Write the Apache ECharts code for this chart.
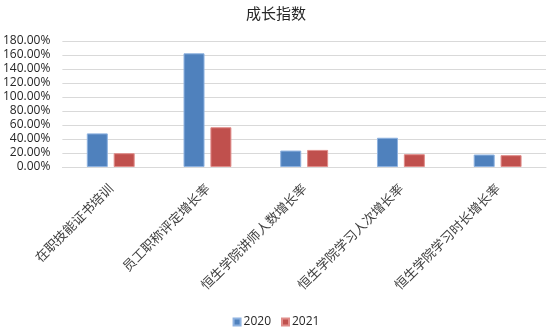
<!DOCTYPE html>
<html>
<head>
<meta charset="utf-8">
<script src="https://cdn.jsdelivr.net/npm/echarts@6/dist/echarts.min.js"></script>
<style>
html,body{margin:0;padding:0;background:#fff;}
#main{width:552px;height:330px;}
</style>
</head>
<body>
<div id="main"></div>
<script>
var categories=["在职技能证书培训","员工职称评定增长率","恒生学院讲师人数增长率","恒生学院学习人次增长率","恒生学院学习时长增长率"];
var data2020=[0.48,1.624,0.235,0.418,0.178];
var data2021=[0.197,0.568,0.244,0.183,0.169];
var yTicks=[0,0.2,0.4,0.6,0.8,1.0,1.2,1.4,1.6,1.8];

var myChart=echarts.init(document.getElementById('main'));
var option={
	title:{
		text:'成长指数',
		left:'center',
		top:1,
		textStyle:{fontFamily:'Noto Sans CJK SC',fontSize:15,fontWeight:'normal',color:'#262626'}
	},
	legend:{
		data:['2020','2021'],
		bottom:-3,
		left:'center',
		itemWidth:7,
		itemHeight:7,
		itemGap:10,
		icon:'rect',
		textStyle:{fontFamily:'Open Sans',fontSize:12,color:'#262626',padding:[0,0,0,-2]}
	},
	grid:{left:62,right:6,top:41,bottom:163,containLabel:false},
	xAxis:{
		type:'category',
		data:categories,
		axisLine:{lineStyle:{color:'#d9d9d9'}},
		axisTick:{show:false},
		axisLabel:{
			interval:0,
			rotate:45,
			margin:19,
			fontFamily:'Noto Sans CJK SC',
			fontSize:13,
			color:'#404040'
		}
	},
	yAxis:{
		type:'value',
		min:yTicks[0],
		max:yTicks[yTicks.length-1],
		interval:0.2,
		axisLine:{show:false},
		axisTick:{show:false},
		splitLine:{lineStyle:{color:'#d9d9d9'}},
		axisLabel:{
			margin:12,
			fontFamily:'Open Sans',
			fontSize:12,
			color:'#262626',
			formatter:function(v){return (v*100).toFixed(2)+'%';}
		}
	},
	series:[{
		name:'2020',
		type:'bar',
		data:data2020,
		barWidth:21,
		barGap:'28%',
		itemStyle:{color:'#4f81bd',borderColor:'#8eb2e0',borderWidth:1}
	},{
		name:'2021',
		type:'bar',
		data:data2021,
		barWidth:21,
		itemStyle:{color:'#c0504d',borderColor:'#e08d8a',borderWidth:1}
	}]
};
myChart.setOption(option);
</script>
</body>
</html>
